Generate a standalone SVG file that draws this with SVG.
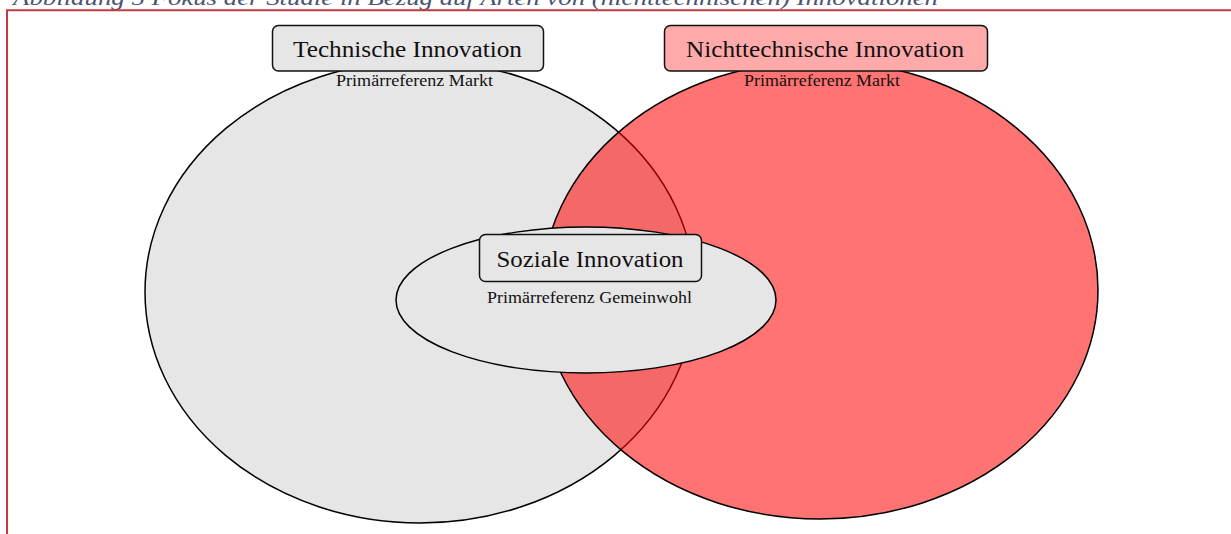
<svg xmlns="http://www.w3.org/2000/svg" width="1231" height="534" viewBox="0 0 1231 534">
<style>
.ell{stroke:#000;stroke-width:1.5}
.box{stroke:#111;stroke-width:1.5}
.big{font-family:"Liberation Serif","DejaVu Serif",serif;font-size:24px;fill:#111;text-anchor:middle}
.small{font-family:"Liberation Serif","DejaVu Serif",serif;font-size:17px;fill:#111;text-anchor:middle}
.cap{font-family:"Liberation Serif","DejaVu Serif",serif;font-size:22px;font-style:italic;fill:#4a5570}
</style>
<rect width="1231" height="534" fill="#fff"/>
<g id="frame">
<text class="cap" x="13" y="5" textLength="925" lengthAdjust="spacingAndGlyphs">Abbildung 5 Fokus der Studie in Bezug auf Arten von (nichttechnischen) Innovationen</text>
<path d="M7 534 V10.3 H1231" fill="none" stroke="#c43a44" stroke-width="2"/>
</g>
<g id="technische">
<ellipse class="ell" cx="420" cy="292" rx="275" ry="231" fill="#e6e6e6"/>
</g>
<g id="nichttechnische">
<ellipse class="ell" cx="820" cy="290" rx="278" ry="229" fill="#ff0000" fill-opacity="0.55"/>
</g>
<g id="soziale">
<ellipse class="ell" cx="586" cy="300" rx="190" ry="73" fill="#e6e6e6"/>
<rect class="box" x="479.5" y="234.5" width="222" height="47" rx="6" fill="#e6e6e6"/>
<text class="big" x="590" y="267" textLength="187" lengthAdjust="spacingAndGlyphs">Soziale Innovation</text>
<text class="small" x="589.5" y="303" textLength="205" lengthAdjust="spacingAndGlyphs">Primärreferenz Gemeinwohl</text>
</g>
<g id="technische-label">
<rect class="box" x="272.5" y="25.5" width="271" height="45.5" rx="6" fill="#e6e6e6"/>
<text class="big" x="407.5" y="57" textLength="229" lengthAdjust="spacingAndGlyphs">Technische Innovation</text>
<text class="small" x="414.5" y="86" textLength="157" lengthAdjust="spacingAndGlyphs">Primärreferenz Markt</text>
</g>
<g id="nichttechnische-label">
<rect class="box" x="664.5" y="25.5" width="323" height="45.5" rx="6" fill="#ffaaaa"/>
<text class="big" x="825" y="57" textLength="278" lengthAdjust="spacingAndGlyphs">Nichttechnische Innovation</text>
<text class="small" x="822" y="86" textLength="156" lengthAdjust="spacingAndGlyphs">Primärreferenz Markt</text>
</g>
</svg>
